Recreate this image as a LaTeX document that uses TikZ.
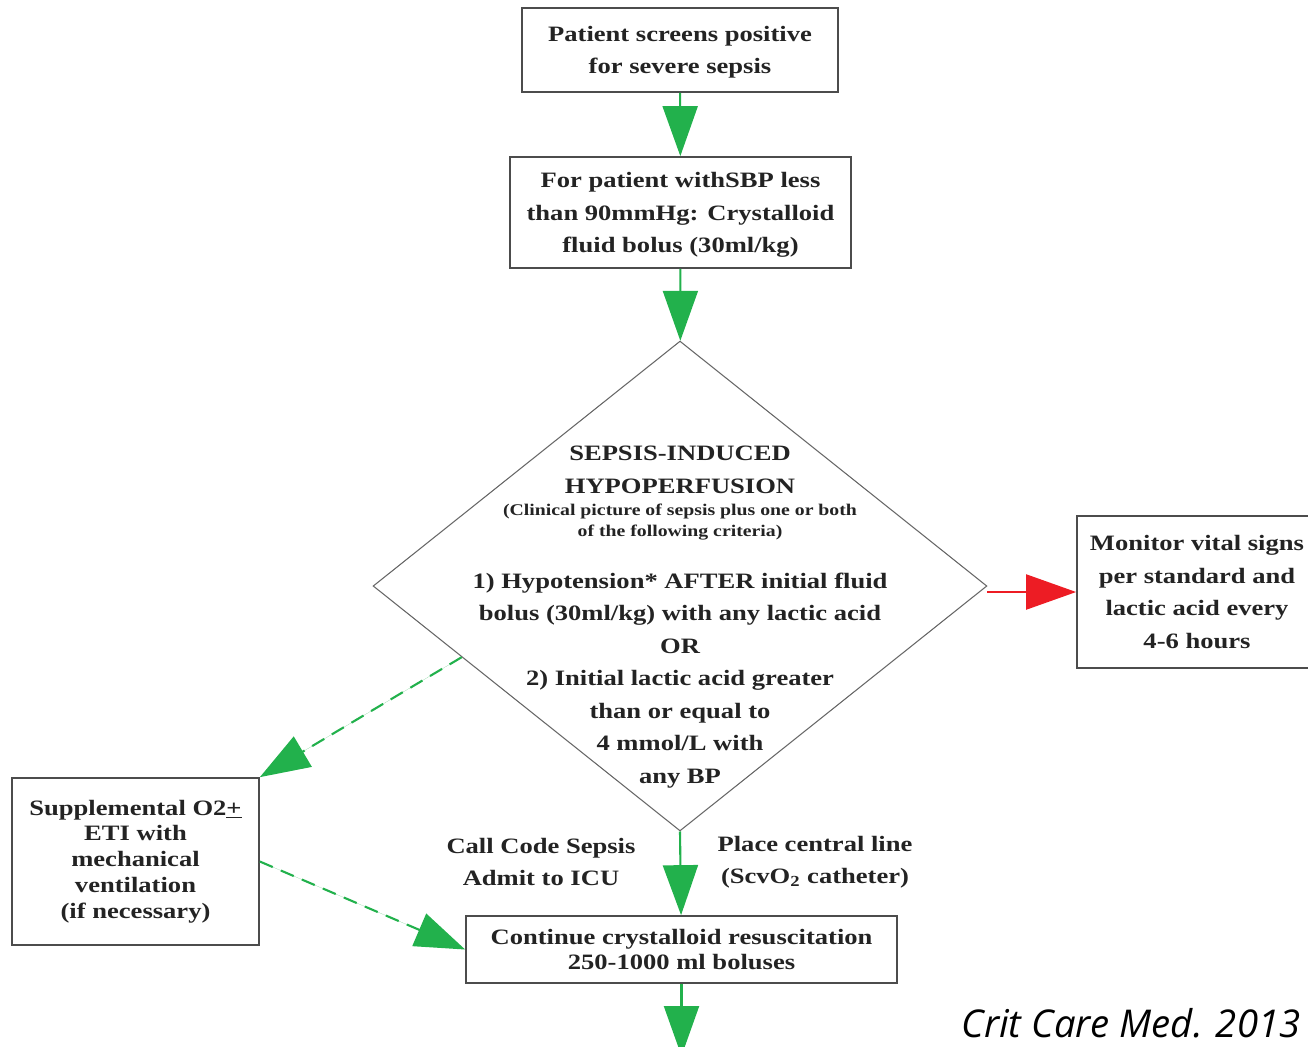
\documentclass[tikz,border=0pt]{standalone}
\usepackage{fontspec}
\setmainfont{Liberation Serif}[FakeStretch=1.21]
\newfontfamily\citefont{Open Sans}
\usepackage{xcolor}
\usepackage{tikz}
\usetikzlibrary{arrows.meta,positioning,shapes.geometric,calc}
\definecolor{sgreen}{RGB}{34,177,76}
\definecolor{sred}{RGB}{237,28,36}
\definecolor{sink}{RGB}{35,35,35}
\tikzstyle{box}=[rectangle, draw=black!70, line width=1pt, align=center,
  text=sink, font=\fontsize{12.5}{18.5}\selectfont\bfseries, inner sep=2pt]
\tikzstyle{dec}=[diamond, draw=black!60, line width=0.6pt, inner sep=0pt,
  minimum width=12.28cm, minimum height=9.8cm]
\tikzstyle{lbl}=[align=center, text=sink, font=\fontsize{12.5}{18}\selectfont\bfseries]
\tikzstyle{arrow}=[-{Triangle[length=1cm,width=0.7cm]}, line width=1.2pt, draw=sgreen, fill=sgreen]
\tikzstyle{dasharrow}=[arrow, dash pattern=on 8pt off 5pt]
\tikzstyle{redarrow}=[arrow, draw=sred, fill=sred]
\newcommand{\smallcrit}{\fontsize{9.3}{12}\selectfont}
\newcommand{\bigcrit}{\fontsize{12.5}{18.5}\selectfont}

\begin{document}
\begin{tikzpicture}[x=0.02cm, y=-0.02cm]
\useasboundingbox (0,0) rectangle (1308,1046);
\node (a) [box, minimum width=6.32cm, minimum height=1.68cm, text depth=0pt] at (680,50)
  {Patient screens positive\\for severe sepsis};
\node (b) [box, minimum width=6.82cm, minimum height=2.22cm, text depth=0pt] at (680.5,212.5)
  {For patient withSBP less\\than 90mmHg: Crystalloid\\fluid bolus (30ml/kg)};
\node (c) [dec] at (680,586) {};
\node (ct) [lbl, font=\bigcrit\bfseries] at (680,617)
  {SEPSIS-INDUCED\\HYPOPERFUSION\\[-5.7pt]
   \smallcrit (Clinical picture of sepsis plus one or both\\[-6.8pt]
   \smallcrit of the following criteria)\\[11pt]
   \bigcrit 1) Hypotension* AFTER initial fluid\\
   bolus (30ml/kg) with any lactic acid\\OR\\
   2) Initial lactic acid greater\\than or equal to\\4 mmol/L with\\any BP};
\node (d) [box, minimum width=4.8cm, minimum height=3.04cm] at (1197,592)
  {Monitor vital signs\\per standard and\\lactic acid every\\4-6 hours};
\node (e) [box, minimum width=4.94cm, minimum height=3.34cm,
  font=\fontsize{12.5}{14.7}\selectfont\bfseries] at (135.5,861.5)
  {Supplemental O2\underline{+}\\ETI with\\mechanical\\ventilation\\(if necessary)};
\node (f) [box, minimum width=8.62cm, minimum height=1.34cm,
  font=\fontsize{12.5}{14.7}\selectfont\bfseries] at (681.5,949.5)
  {Continue crystalloid resuscitation\\250-1000 ml boluses};
\node (g) [lbl] at (541,862) {Call Code Sepsis\\Admit to ICU};
\node (h) [lbl] at (815,862) {Place central line\\(ScvO\textsubscript{2} catheter)};
\node (cite) [font=\citefont\itshape\fontsize{21.8}{24}\selectfont, inner sep=0pt] at (1131,1023) {Crit Care Med. 2013};
\coordinate (out) at (681.5,1056);
\draw[arrow] (a)--(b);
\draw[arrow] (b)--(c);
\draw[arrow] (c.south)--(f);
\draw[arrow] (f)--(out);
\draw[redarrow] (d.west -| c.east)--(d.west);
\draw[dasharrow] ($(c.west)!0.29!(c.south)$)--(e.north east);
\draw[dasharrow] (e.east)--(f.west);
\end{tikzpicture}
\end{document}
